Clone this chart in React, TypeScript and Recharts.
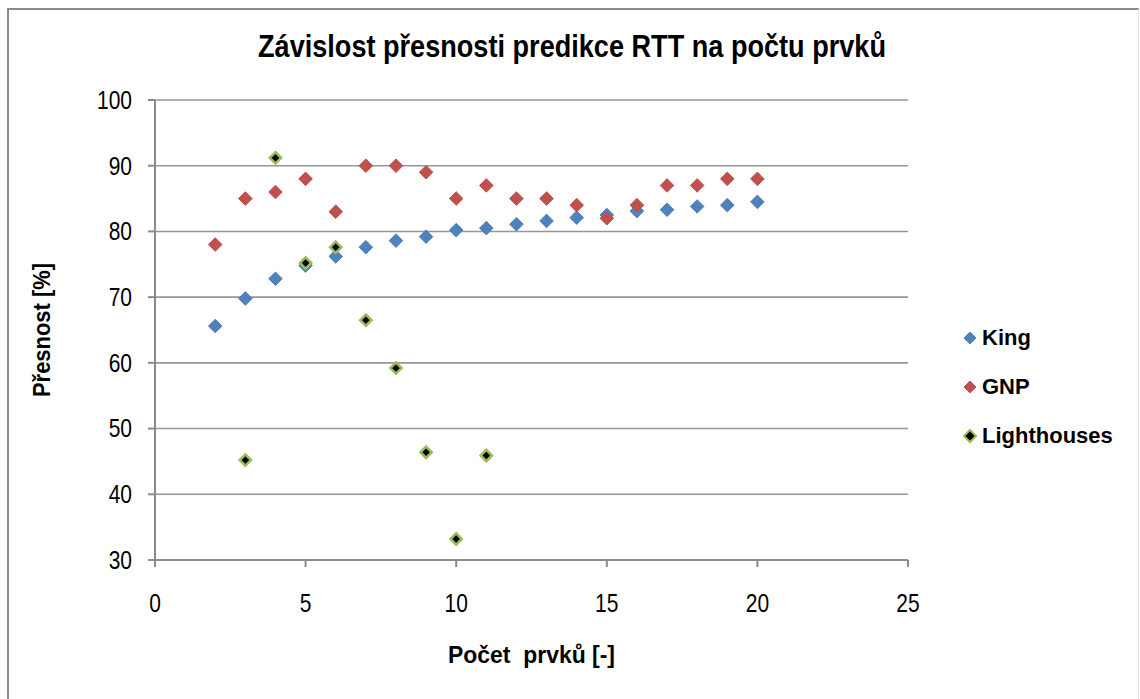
import React from 'react';
import { ScatterChart, Scatter, XAxis, YAxis, CartesianGrid } from 'recharts';

const kingX = [2, 3, 4, 5, 6, 7, 8, 9, 10, 11, 12, 13, 14, 15, 16, 17, 18, 19, 20];
const kingY = [65.6, 69.8, 72.8, 74.8, 76.2, 77.6, 78.6, 79.2, 80.2, 80.5, 81.1, 81.6, 82.1, 82.5, 83.1, 83.3, 83.8, 84.0, 84.5];
const gnpX = [2, 3, 4, 5, 6, 7, 8, 9, 10, 11, 12, 13, 14, 15, 16, 17, 18, 19, 20];
const gnpY = [78, 85, 86, 88, 83, 90, 90, 89, 85, 87, 85, 85, 84, 82, 84, 87, 87, 88, 88];
const lightX = [3, 4, 5, 6, 7, 8, 9, 10, 11];
const lightY = [45.2, 91.2, 75.2, 77.6, 66.5, 59.2, 46.4, 33.2, 45.9];

const xTicks = [0, 5, 10, 15, 20, 25];
const yTicks = [30, 40, 50, 60, 70, 80, 90, 100];

const seriesNames = ['King', 'GNP', 'Lighthouses'];
const titleText = 'Závislost přesnosti predikce RTT na počtu prvků';
const xLabel = 'Počet  prvků [-]';
const yLabel = 'Přesnost [%]';

const toPts = (xs: number[], ys: number[]) => xs.map((x, i) => ({ x, y: ys[i] }));
const kingData = toPts(kingX, kingY);
const gnpData = toPts(gnpX, gnpY);
const lightData = toPts(lightX, lightY);

const FONT = "'Liberation Sans', Arial, sans-serif";

const makeDiamond = (fill: string, stroke: string, r: number, sw: number) => (props: any) => {
  const { cx, cy } = props;
  if (cx == null || cy == null) return <g />;
  return (
    <polygon
      points={`${cx},${cy - r} ${cx + r},${cy} ${cx},${cy + r} ${cx - r},${cy}`}
      fill={fill}
      stroke={stroke}
      strokeWidth={sw}
    />
  );
};

const kingShape = makeDiamond('#4F81BD', '#4F81BD', 6.8, 1);
const gnpShape = makeDiamond('#C0504D', '#C0504D', 6.8, 1);
const lightShape = makeDiamond('#000000', '#9BBB59', 5.6, 2.6);

const legendColors = [
  { fill: '#4F81BD', stroke: '#4F81BD' },
  { fill: '#C0504D', stroke: '#C0504D' },
  { fill: '#000000', stroke: '#9BBB59' },
];

const SQ = 0.84;

const makeTick = (anchor: 'end' | 'middle', dy: string) => (props: any) => {
  const { x, y, payload } = props;
  return (
    <text
      x={x}
      y={y}
      dy={dy}
      textAnchor={anchor}
      fill="#000"
      fontSize={25}
      fontFamily={FONT}
      transform={`translate(${x},${y}) scale(${SQ},1) translate(${-x},${-y})`}
    >
      {payload.value}
    </text>
  );
};

const xTick = makeTick('middle', '0.71em');
const yTick = makeTick('end', '0.355em');

export default function App() {
  return (
    <div style={{ position: 'absolute', left: 0, top: 0, width: 1140, height: 699, background: '#fff', overflow: 'hidden' }}>
      <div style={{ position: 'absolute', left: 7, top: 8, width: 1132, height: 700, borderLeft: '2px solid #8a8a8a', borderTop: '2px solid #8a8a8a', borderRight: '1px solid #e2e2e2', boxSizing: 'border-box' }} />
      <div style={{ position: 'absolute', left: 0, top: 0 }}>
        <ScatterChart width={1140} height={699} margin={{ top: 100, right: 232, left: 0, bottom: 0 }}>
          <CartesianGrid vertical={false} stroke="#979797" strokeWidth={1.6} />
          <XAxis
            type="number"
            dataKey="x"
            domain={[0, 25]}
            ticks={xTicks}
            height={139}
            tickSize={7}
            tickMargin={27}
            stroke="#8a8a8a"
            strokeWidth={2}
            tick={xTick}
            allowDataOverflow
          />
          <YAxis
            type="number"
            dataKey="y"
            domain={[30, 100]}
            ticks={yTicks}
            width={155}
            tickSize={7}
            tickMargin={16}
            stroke="#8a8a8a"
            strokeWidth={2}
            tick={yTick}
            allowDataOverflow
          />
          <Scatter name="King" data={kingData} fill="#4F81BD" shape={kingShape} isAnimationActive={false} />
          <Scatter name="GNP" data={gnpData} fill="#C0504D" shape={gnpShape} isAnimationActive={false} />
          <Scatter name="Lighthouses" data={lightData} fill="#000" shape={lightShape} isAnimationActive={false} />
        </ScatterChart>
      </div>
      <svg width={1140} height={699} style={{ position: 'absolute', left: 0, top: 0, pointerEvents: 'none' }}>
        <text x={572} y={57} textAnchor="middle" fontFamily={FONT} fontSize={32} fontWeight="bold" fill="#000" textLength={628} lengthAdjust="spacingAndGlyphs">
          {titleText}
        </text>
        <text x={531.5} y={663} textAnchor="middle" fontFamily={FONT} fontSize={24} fontWeight="bold" fill="#000" textLength={167} lengthAdjust="spacingAndGlyphs" style={{ whiteSpace: 'pre' }} xmlSpace="preserve">
          {xLabel}
        </text>
        <text x={0} y={0} transform="translate(50,330) rotate(-90)" textAnchor="middle" fontFamily={FONT} fontSize={24} fontWeight="bold" fill="#000" textLength={134} lengthAdjust="spacingAndGlyphs">
          {yLabel}
        </text>
      </svg>
      <div style={{ position: 'absolute', left: 962, top: 313, fontFamily: FONT, fontSize: 22, fontWeight: 'bold', color: '#000' }}>
        {seriesNames.map((n, i) => (
          <div key={n} style={{ display: 'flex', alignItems: 'center', height: 49 }}>
            <svg width={16} height={16} style={{ marginRight: 4 }}>
              <polygon points="8,2 14,8 8,14 2,8" fill={legendColors[i].fill} stroke={legendColors[i].stroke} strokeWidth={i === 2 ? 2 : 1} />
            </svg>
            <span>{n}</span>
          </div>
        ))}
      </div>
    </div>
  );
}
